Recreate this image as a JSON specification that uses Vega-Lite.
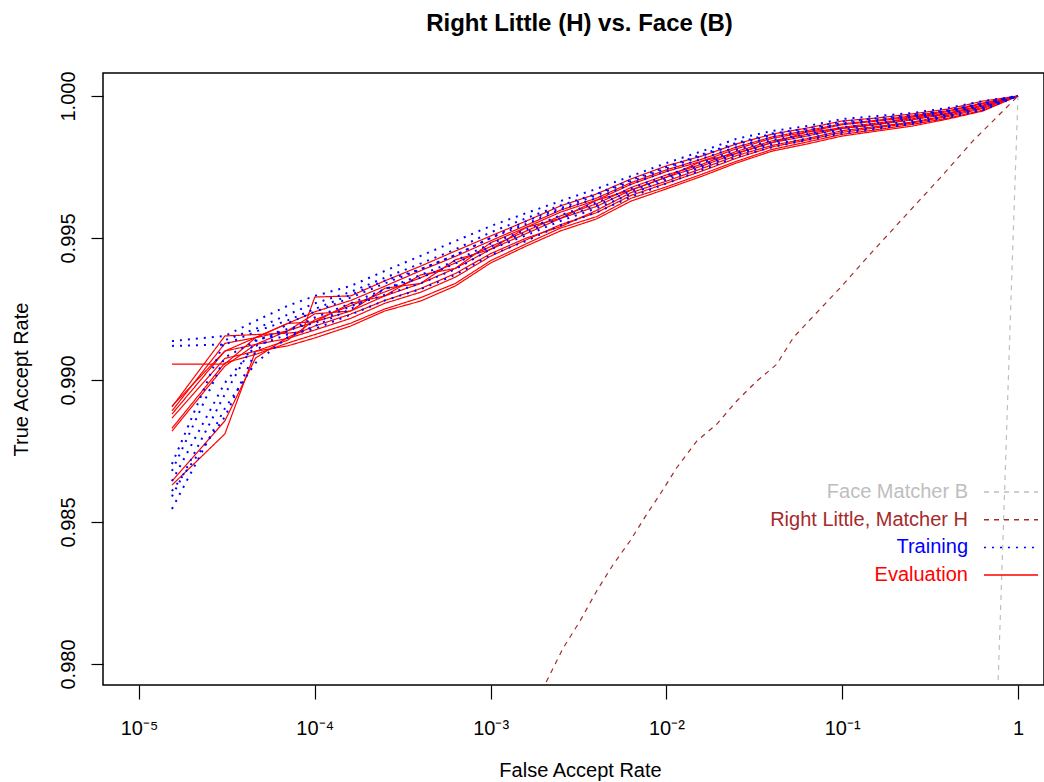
{
"$schema": "https://vega.github.io/schema/vega-lite/v6.json",
"width": 941, "height": 612,
"autosize": {"type": "none"},
"padding": {"left": 103, "top": 73, "right": 0, "bottom": 97},
"background": "white",
"config": {"font": "Liberation Sans", "view": {"stroke": "black", "strokeWidth": 1.5}},
"title": {"text": "Right Little (H) vs. Face (B)", "fontSize": 24, "fontWeight": "bold", "font": "Liberation Sans", "color": "black", "anchor": "middle", "dx": 6, "offset": 16, "baseline": "alphabetic"},
"data": {"values": [
{"g":"Evaluation","c":"R1","far":1.54e-5,"tar":0.99056},{"g":"Evaluation","c":"R1","far":3.08e-5,"tar":0.99056},{"g":"Evaluation","c":"R1","far":4.6e-5,"tar":0.99149},{"g":"Evaluation","c":"R1","far":7e-5,"tar":0.99199},{"g":"Evaluation","c":"R1","far":1e-4,"tar":0.99205},{"g":"Evaluation","c":"R1","far":1.6e-4,"tar":0.9927},{"g":"Evaluation","c":"R1","far":2.5e-4,"tar":0.99296},{"g":"Evaluation","c":"R1","far":4e-4,"tar":0.9937},{"g":"Evaluation","c":"R1","far":6.3e-4,"tar":0.99393},{"g":"Evaluation","c":"R1","far":1e-3,"tar":0.99483},{"g":"Evaluation","c":"R1","far":1.6e-3,"tar":0.99538},{"g":"Evaluation","c":"R1","far":2.5e-3,"tar":0.99569},{"g":"Evaluation","c":"R1","far":4e-3,"tar":0.99633},{"g":"Evaluation","c":"R1","far":6.3e-3,"tar":0.99669},{"g":"Evaluation","c":"R1","far":0.01,"tar":0.99714},{"g":"Evaluation","c":"R1","far":0.016,"tar":0.99771},{"g":"Evaluation","c":"R1","far":0.025,"tar":0.99798},{"g":"Evaluation","c":"R1","far":0.04,"tar":0.99836},{"g":"Evaluation","c":"R1","far":0.063,"tar":0.99873},{"g":"Evaluation","c":"R1","far":0.1,"tar":0.99886},{"g":"Evaluation","c":"R1","far":0.16,"tar":0.999},{"g":"Evaluation","c":"R1","far":0.25,"tar":0.99926},{"g":"Evaluation","c":"R1","far":0.4,"tar":0.99937},{"g":"Evaluation","c":"R1","far":0.63,"tar":0.99965},{"g":"Evaluation","c":"R1","far":1,"tar":1},
{"g":"Evaluation","c":"R2","far":1.54e-5,"tar":0.98908},{"g":"Evaluation","c":"R2","far":3.08e-5,"tar":0.99102},{"g":"Evaluation","c":"R2","far":4.6e-5,"tar":0.99125},{"g":"Evaluation","c":"R2","far":7e-5,"tar":0.99146},{"g":"Evaluation","c":"R2","far":1e-4,"tar":0.99176},{"g":"Evaluation","c":"R2","far":1.6e-4,"tar":0.99217},{"g":"Evaluation","c":"R2","far":2.5e-4,"tar":0.9927},{"g":"Evaluation","c":"R2","far":4e-4,"tar":0.99309},{"g":"Evaluation","c":"R2","far":6.3e-4,"tar":0.99362},{"g":"Evaluation","c":"R2","far":1e-3,"tar":0.99436},{"g":"Evaluation","c":"R2","far":1.6e-3,"tar":0.99494},{"g":"Evaluation","c":"R2","far":2.5e-3,"tar":0.99547},{"g":"Evaluation","c":"R2","far":4e-3,"tar":0.99589},{"g":"Evaluation","c":"R2","far":6.3e-3,"tar":0.9965},{"g":"Evaluation","c":"R2","far":0.01,"tar":0.99693},{"g":"Evaluation","c":"R2","far":0.016,"tar":0.99736},{"g":"Evaluation","c":"R2","far":0.025,"tar":0.99781},{"g":"Evaluation","c":"R2","far":0.04,"tar":0.99821},{"g":"Evaluation","c":"R2","far":0.063,"tar":0.99845},{"g":"Evaluation","c":"R2","far":0.1,"tar":0.99872},{"g":"Evaluation","c":"R2","far":0.16,"tar":0.99889},{"g":"Evaluation","c":"R2","far":0.25,"tar":0.99905},{"g":"Evaluation","c":"R2","far":0.4,"tar":0.99928},{"g":"Evaluation","c":"R2","far":0.63,"tar":0.99956},{"g":"Evaluation","c":"R2","far":1,"tar":1},
{"g":"Evaluation","c":"R3","far":1.54e-5,"tar":0.98891},{"g":"Evaluation","c":"R3","far":3.08e-5,"tar":0.99129},{"g":"Evaluation","c":"R3","far":4.6e-5,"tar":0.99149},{"g":"Evaluation","c":"R3","far":7e-5,"tar":0.99173},{"g":"Evaluation","c":"R3","far":1e-4,"tar":0.99205},{"g":"Evaluation","c":"R3","far":1.6e-4,"tar":0.99243},{"g":"Evaluation","c":"R3","far":2.5e-4,"tar":0.99296},{"g":"Evaluation","c":"R3","far":4e-4,"tar":0.9934},{"g":"Evaluation","c":"R3","far":6.3e-4,"tar":0.99393},{"g":"Evaluation","c":"R3","far":1e-3,"tar":0.9946},{"g":"Evaluation","c":"R3","far":1.6e-3,"tar":0.99516},{"g":"Evaluation","c":"R3","far":2.5e-3,"tar":0.99569},{"g":"Evaluation","c":"R3","far":4e-3,"tar":0.99611},{"g":"Evaluation","c":"R3","far":6.3e-3,"tar":0.99669},{"g":"Evaluation","c":"R3","far":0.01,"tar":0.99714},{"g":"Evaluation","c":"R3","far":0.016,"tar":0.99754},{"g":"Evaluation","c":"R3","far":0.025,"tar":0.99798},{"g":"Evaluation","c":"R3","far":0.04,"tar":0.99836},{"g":"Evaluation","c":"R3","far":0.063,"tar":0.99859},{"g":"Evaluation","c":"R3","far":0.1,"tar":0.99886},{"g":"Evaluation","c":"R3","far":0.16,"tar":0.999},{"g":"Evaluation","c":"R3","far":0.25,"tar":0.99916},{"g":"Evaluation","c":"R3","far":0.4,"tar":0.99937},{"g":"Evaluation","c":"R3","far":0.63,"tar":0.99965},{"g":"Evaluation","c":"R3","far":1,"tar":1},
{"g":"Evaluation","c":"R4","far":1.54e-5,"tar":0.98866},{"g":"Evaluation","c":"R4","far":3.08e-5,"tar":0.99076},{"g":"Evaluation","c":"R4","far":4.6e-5,"tar":0.99101},{"g":"Evaluation","c":"R4","far":7e-5,"tar":0.9912},{"g":"Evaluation","c":"R4","far":1e-4,"tar":0.99148},{"g":"Evaluation","c":"R4","far":1.6e-4,"tar":0.9919},{"g":"Evaluation","c":"R4","far":2.5e-4,"tar":0.99243},{"g":"Evaluation","c":"R4","far":4e-4,"tar":0.99278},{"g":"Evaluation","c":"R4","far":6.3e-4,"tar":0.99331},{"g":"Evaluation","c":"R4","far":1e-3,"tar":0.99412},{"g":"Evaluation","c":"R4","far":1.6e-3,"tar":0.99472},{"g":"Evaluation","c":"R4","far":2.5e-3,"tar":0.99525},{"g":"Evaluation","c":"R4","far":4e-3,"tar":0.99567},{"g":"Evaluation","c":"R4","far":6.3e-3,"tar":0.9963},{"g":"Evaluation","c":"R4","far":0.01,"tar":0.99673},{"g":"Evaluation","c":"R4","far":0.016,"tar":0.99718},{"g":"Evaluation","c":"R4","far":0.025,"tar":0.99764},{"g":"Evaluation","c":"R4","far":0.04,"tar":0.99806},{"g":"Evaluation","c":"R4","far":0.063,"tar":0.99831},{"g":"Evaluation","c":"R4","far":0.1,"tar":0.99859},{"g":"Evaluation","c":"R4","far":0.16,"tar":0.99877},{"g":"Evaluation","c":"R4","far":0.25,"tar":0.99894},{"g":"Evaluation","c":"R4","far":0.4,"tar":0.99919},{"g":"Evaluation","c":"R4","far":0.63,"tar":0.99947},{"g":"Evaluation","c":"R4","far":1,"tar":1},
{"g":"Evaluation","c":"R5","far":1.54e-5,"tar":0.9882},{"g":"Evaluation","c":"R5","far":3.08e-5,"tar":0.99049},{"g":"Evaluation","c":"R5","far":4.6e-5,"tar":0.99125},{"g":"Evaluation","c":"R5","far":7e-5,"tar":0.99173},{"g":"Evaluation","c":"R5","far":1e-4,"tar":0.99233},{"g":"Evaluation","c":"R5","far":1.6e-4,"tar":0.99243},{"g":"Evaluation","c":"R5","far":2.5e-4,"tar":0.99323},{"g":"Evaluation","c":"R5","far":4e-4,"tar":0.9934},{"g":"Evaluation","c":"R5","far":6.3e-4,"tar":0.99423},{"g":"Evaluation","c":"R5","far":1e-3,"tar":0.9946},{"g":"Evaluation","c":"R5","far":1.6e-3,"tar":0.99538},{"g":"Evaluation","c":"R5","far":2.5e-3,"tar":0.99591},{"g":"Evaluation","c":"R5","far":4e-3,"tar":0.99633},{"g":"Evaluation","c":"R5","far":6.3e-3,"tar":0.99689},{"g":"Evaluation","c":"R5","far":0.01,"tar":0.99734},{"g":"Evaluation","c":"R5","far":0.016,"tar":0.99771},{"g":"Evaluation","c":"R5","far":0.025,"tar":0.99814},{"g":"Evaluation","c":"R5","far":0.04,"tar":0.99851},{"g":"Evaluation","c":"R5","far":0.063,"tar":0.99873},{"g":"Evaluation","c":"R5","far":0.1,"tar":0.99899},{"g":"Evaluation","c":"R5","far":0.16,"tar":0.99912},{"g":"Evaluation","c":"R5","far":0.25,"tar":0.99926},{"g":"Evaluation","c":"R5","far":0.4,"tar":0.99945},{"g":"Evaluation","c":"R5","far":0.63,"tar":0.99973},{"g":"Evaluation","c":"R5","far":1,"tar":1},
{"g":"Evaluation","c":"R6","far":1.54e-5,"tar":0.98644},{"g":"Evaluation","c":"R6","far":3.08e-5,"tar":0.98856},{"g":"Evaluation","c":"R6","far":4.6e-5,"tar":0.99077},{"g":"Evaluation","c":"R6","far":7e-5,"tar":0.9915},{"g":"Evaluation","c":"R6","far":1e-4,"tar":0.9919},{"g":"Evaluation","c":"R6","far":1.6e-4,"tar":0.99232},{"g":"Evaluation","c":"R6","far":2.5e-4,"tar":0.9928},{"g":"Evaluation","c":"R6","far":4e-4,"tar":0.99322},{"g":"Evaluation","c":"R6","far":6.3e-4,"tar":0.99375},{"g":"Evaluation","c":"R6","far":1e-3,"tar":0.99445},{"g":"Evaluation","c":"R6","far":1.6e-3,"tar":0.995},{"g":"Evaluation","c":"R6","far":2.5e-3,"tar":0.9954},{"g":"Evaluation","c":"R6","far":4e-3,"tar":0.99597},{"g":"Evaluation","c":"R6","far":6.3e-3,"tar":0.9966},{"g":"Evaluation","c":"R6","far":0.01,"tar":0.997},{"g":"Evaluation","c":"R6","far":0.016,"tar":0.99745},{"g":"Evaluation","c":"R6","far":0.025,"tar":0.9979},{"g":"Evaluation","c":"R6","far":0.04,"tar":0.99826},{"g":"Evaluation","c":"R6","far":0.063,"tar":0.9985},{"g":"Evaluation","c":"R6","far":0.1,"tar":0.99878},{"g":"Evaluation","c":"R6","far":0.16,"tar":0.99893},{"g":"Evaluation","c":"R6","far":0.25,"tar":0.99908},{"g":"Evaluation","c":"R6","far":0.4,"tar":0.99932},{"g":"Evaluation","c":"R6","far":0.63,"tar":0.9996},{"g":"Evaluation","c":"R6","far":1,"tar":1},
{"g":"Evaluation","c":"R7","far":1.54e-5,"tar":0.9863},{"g":"Evaluation","c":"R7","far":3.08e-5,"tar":0.9881},{"g":"Evaluation","c":"R7","far":4.6e-5,"tar":0.99101},{"g":"Evaluation","c":"R7","far":7e-5,"tar":0.9914},{"g":"Evaluation","c":"R7","far":1e-4,"tar":0.99212},{"g":"Evaluation","c":"R7","far":1.6e-4,"tar":0.99262},{"g":"Evaluation","c":"R7","far":2.5e-4,"tar":0.9931},{"g":"Evaluation","c":"R7","far":4e-4,"tar":0.9936},{"g":"Evaluation","c":"R7","far":6.3e-4,"tar":0.99412},{"g":"Evaluation","c":"R7","far":1e-3,"tar":0.9947},{"g":"Evaluation","c":"R7","far":1.6e-3,"tar":0.99525},{"g":"Evaluation","c":"R7","far":2.5e-3,"tar":0.99578},{"g":"Evaluation","c":"R7","far":4e-3,"tar":0.9962},{"g":"Evaluation","c":"R7","far":6.3e-3,"tar":0.99678},{"g":"Evaluation","c":"R7","far":0.01,"tar":0.99722},{"g":"Evaluation","c":"R7","far":0.016,"tar":0.9976},{"g":"Evaluation","c":"R7","far":0.025,"tar":0.99805},{"g":"Evaluation","c":"R7","far":0.04,"tar":0.99842},{"g":"Evaluation","c":"R7","far":0.063,"tar":0.99865},{"g":"Evaluation","c":"R7","far":0.1,"tar":0.9989},{"g":"Evaluation","c":"R7","far":0.16,"tar":0.99905},{"g":"Evaluation","c":"R7","far":0.25,"tar":0.9992},{"g":"Evaluation","c":"R7","far":0.4,"tar":0.9994},{"g":"Evaluation","c":"R7","far":0.63,"tar":0.99968},{"g":"Evaluation","c":"R7","far":1,"tar":1},
{"g":"Evaluation","c":"R8","far":1.54e-5,"tar":0.98905},{"g":"Evaluation","c":"R8","far":3.08e-5,"tar":0.99155},{"g":"Evaluation","c":"R8","far":4.6e-5,"tar":0.9916},{"g":"Evaluation","c":"R8","far":7e-5,"tar":0.99165},{"g":"Evaluation","c":"R8","far":8.5e-5,"tar":0.9917},{"g":"Evaluation","c":"R8","far":1e-4,"tar":0.99292},{"g":"Evaluation","c":"R8","far":1.6e-4,"tar":0.99296},{"g":"Evaluation","c":"R8","far":2.5e-4,"tar":0.99349},{"g":"Evaluation","c":"R8","far":4e-4,"tar":0.99401},{"g":"Evaluation","c":"R8","far":6.3e-4,"tar":0.99454},{"g":"Evaluation","c":"R8","far":1e-3,"tar":0.99507},{"g":"Evaluation","c":"R8","far":1.6e-3,"tar":0.9956},{"g":"Evaluation","c":"R8","far":2.5e-3,"tar":0.99613},{"g":"Evaluation","c":"R8","far":4e-3,"tar":0.99655},{"g":"Evaluation","c":"R8","far":6.3e-3,"tar":0.99708},{"g":"Evaluation","c":"R8","far":0.01,"tar":0.99754},{"g":"Evaluation","c":"R8","far":0.016,"tar":0.99789},{"g":"Evaluation","c":"R8","far":0.025,"tar":0.99831},{"g":"Evaluation","c":"R8","far":0.04,"tar":0.99866},{"g":"Evaluation","c":"R8","far":0.063,"tar":0.99887},{"g":"Evaluation","c":"R8","far":0.1,"tar":0.99912},{"g":"Evaluation","c":"R8","far":0.16,"tar":0.99923},{"g":"Evaluation","c":"R8","far":0.25,"tar":0.99937},{"g":"Evaluation","c":"R8","far":0.4,"tar":0.99954},{"g":"Evaluation","c":"R8","far":0.63,"tar":0.99982},{"g":"Evaluation","c":"R8","far":1,"tar":1},
{"g":"Evaluation","c":"R9","far":1.54e-5,"tar":0.9888},{"g":"Evaluation","c":"R9","far":3.08e-5,"tar":0.99102},{"g":"Evaluation","c":"R9","far":4.6e-5,"tar":0.99149},{"g":"Evaluation","c":"R9","far":7e-5,"tar":0.99199},{"g":"Evaluation","c":"R9","far":1e-4,"tar":0.9924},{"g":"Evaluation","c":"R9","far":1.6e-4,"tar":0.9928},{"g":"Evaluation","c":"R9","far":2.5e-4,"tar":0.9933},{"g":"Evaluation","c":"R9","far":4e-4,"tar":0.99385},{"g":"Evaluation","c":"R9","far":6.3e-4,"tar":0.99435},{"g":"Evaluation","c":"R9","far":1e-3,"tar":0.9949},{"g":"Evaluation","c":"R9","far":1.6e-3,"tar":0.99545},{"g":"Evaluation","c":"R9","far":2.5e-3,"tar":0.99598},{"g":"Evaluation","c":"R9","far":4e-3,"tar":0.9964},{"g":"Evaluation","c":"R9","far":6.3e-3,"tar":0.99695},{"g":"Evaluation","c":"R9","far":0.01,"tar":0.9974},{"g":"Evaluation","c":"R9","far":0.016,"tar":0.99778},{"g":"Evaluation","c":"R9","far":0.025,"tar":0.9982},{"g":"Evaluation","c":"R9","far":0.04,"tar":0.99856},{"g":"Evaluation","c":"R9","far":0.063,"tar":0.99878},{"g":"Evaluation","c":"R9","far":0.1,"tar":0.99902},{"g":"Evaluation","c":"R9","far":0.16,"tar":0.99915},{"g":"Evaluation","c":"R9","far":0.25,"tar":0.9993},{"g":"Evaluation","c":"R9","far":0.4,"tar":0.99948},{"g":"Evaluation","c":"R9","far":0.63,"tar":0.99975},{"g":"Evaluation","c":"R9","far":1,"tar":1},
{"g":"Evaluation","c":"R10","far":1.54e-5,"tar":0.9883},{"g":"Evaluation","c":"R10","far":3.08e-5,"tar":0.9906},{"g":"Evaluation","c":"R10","far":4.6e-5,"tar":0.9909},{"g":"Evaluation","c":"R10","far":7e-5,"tar":0.9913},{"g":"Evaluation","c":"R10","far":1e-4,"tar":0.9916},{"g":"Evaluation","c":"R10","far":1.6e-4,"tar":0.992},{"g":"Evaluation","c":"R10","far":2.5e-4,"tar":0.9925},{"g":"Evaluation","c":"R10","far":4e-4,"tar":0.9929},{"g":"Evaluation","c":"R10","far":6.3e-4,"tar":0.9934},{"g":"Evaluation","c":"R10","far":1e-3,"tar":0.9942},{"g":"Evaluation","c":"R10","far":1.6e-3,"tar":0.9948},{"g":"Evaluation","c":"R10","far":2.5e-3,"tar":0.99535},{"g":"Evaluation","c":"R10","far":4e-3,"tar":0.99575},{"g":"Evaluation","c":"R10","far":6.3e-3,"tar":0.9964},{"g":"Evaluation","c":"R10","far":0.01,"tar":0.9968},{"g":"Evaluation","c":"R10","far":0.016,"tar":0.99725},{"g":"Evaluation","c":"R10","far":0.025,"tar":0.9977},{"g":"Evaluation","c":"R10","far":0.04,"tar":0.99812},{"g":"Evaluation","c":"R10","far":0.063,"tar":0.99838},{"g":"Evaluation","c":"R10","far":0.1,"tar":0.99865},{"g":"Evaluation","c":"R10","far":0.16,"tar":0.99882},{"g":"Evaluation","c":"R10","far":0.25,"tar":0.999},{"g":"Evaluation","c":"R10","far":0.4,"tar":0.99922},{"g":"Evaluation","c":"R10","far":0.63,"tar":0.9995},{"g":"Evaluation","c":"R10","far":1,"tar":1},
{"g":"Training","c":"B1","far":1.54e-5,"tar":0.99137},{"g":"Training","c":"B1","far":3.08e-5,"tar":0.99155},{"g":"Training","c":"B1","far":4.6e-5,"tar":0.99208},{"g":"Training","c":"B1","far":7e-5,"tar":0.99261},{"g":"Training","c":"B1","far":1e-4,"tar":0.99296},{"g":"Training","c":"B1","far":1.6e-4,"tar":0.99331},{"g":"Training","c":"B1","far":2.5e-4,"tar":0.99384},{"g":"Training","c":"B1","far":4e-4,"tar":0.99437},{"g":"Training","c":"B1","far":6.3e-4,"tar":0.99489},{"g":"Training","c":"B1","far":1e-3,"tar":0.99542},{"g":"Training","c":"B1","far":1.6e-3,"tar":0.99588},{"g":"Training","c":"B1","far":2.5e-3,"tar":0.9963},{"g":"Training","c":"B1","far":4e-3,"tar":0.99673},{"g":"Training","c":"B1","far":6.3e-3,"tar":0.99718},{"g":"Training","c":"B1","far":0.01,"tar":0.99764},{"g":"Training","c":"B1","far":0.016,"tar":0.99806},{"g":"Training","c":"B1","far":0.025,"tar":0.99849},{"g":"Training","c":"B1","far":0.04,"tar":0.99877},{"g":"Training","c":"B1","far":0.063,"tar":0.99894},{"g":"Training","c":"B1","far":0.1,"tar":0.99919},{"g":"Training","c":"B1","far":0.16,"tar":0.9993},{"g":"Training","c":"B1","far":0.25,"tar":0.9994},{"g":"Training","c":"B1","far":0.4,"tar":0.99958},{"g":"Training","c":"B1","far":0.63,"tar":0.99982},{"g":"Training","c":"B1","far":1,"tar":1},
{"g":"Training","c":"B2","far":1.54e-5,"tar":0.9912},{"g":"Training","c":"B2","far":3.08e-5,"tar":0.99125},{"g":"Training","c":"B2","far":4.6e-5,"tar":0.9917},{"g":"Training","c":"B2","far":7e-5,"tar":0.9921},{"g":"Training","c":"B2","far":1e-4,"tar":0.9925},{"g":"Training","c":"B2","far":1.6e-4,"tar":0.993},{"g":"Training","c":"B2","far":2.5e-4,"tar":0.9935},{"g":"Training","c":"B2","far":4e-4,"tar":0.9939},{"g":"Training","c":"B2","far":6.3e-4,"tar":0.9944},{"g":"Training","c":"B2","far":1e-3,"tar":0.995},{"g":"Training","c":"B2","far":1.6e-3,"tar":0.9955},{"g":"Training","c":"B2","far":2.5e-3,"tar":0.996},{"g":"Training","c":"B2","far":4e-3,"tar":0.9964},{"g":"Training","c":"B2","far":6.3e-3,"tar":0.9969},{"g":"Training","c":"B2","far":0.01,"tar":0.99735},{"g":"Training","c":"B2","far":0.016,"tar":0.9978},{"g":"Training","c":"B2","far":0.025,"tar":0.9982},{"g":"Training","c":"B2","far":0.04,"tar":0.99855},{"g":"Training","c":"B2","far":0.063,"tar":0.99875},{"g":"Training","c":"B2","far":0.1,"tar":0.999},{"g":"Training","c":"B2","far":0.16,"tar":0.99912},{"g":"Training","c":"B2","far":0.25,"tar":0.99925},{"g":"Training","c":"B2","far":0.4,"tar":0.99945},{"g":"Training","c":"B2","far":0.63,"tar":0.9997},{"g":"Training","c":"B2","far":1,"tar":1},
{"g":"Training","c":"B3","far":1.54e-5,"tar":0.98704},{"g":"Training","c":"B3","far":3.08e-5,"tar":0.9914},{"g":"Training","c":"B3","far":4.6e-5,"tar":0.9918},{"g":"Training","c":"B3","far":7e-5,"tar":0.9923},{"g":"Training","c":"B3","far":1e-4,"tar":0.9927},{"g":"Training","c":"B3","far":1.6e-4,"tar":0.9931},{"g":"Training","c":"B3","far":2.5e-4,"tar":0.9936},{"g":"Training","c":"B3","far":4e-4,"tar":0.9941},{"g":"Training","c":"B3","far":6.3e-4,"tar":0.9946},{"g":"Training","c":"B3","far":1e-3,"tar":0.9952},{"g":"Training","c":"B3","far":1.6e-3,"tar":0.9957},{"g":"Training","c":"B3","far":2.5e-3,"tar":0.99615},{"g":"Training","c":"B3","far":4e-3,"tar":0.99655},{"g":"Training","c":"B3","far":6.3e-3,"tar":0.99705},{"g":"Training","c":"B3","far":0.01,"tar":0.9975},{"g":"Training","c":"B3","far":0.016,"tar":0.99795},{"g":"Training","c":"B3","far":0.025,"tar":0.99835},{"g":"Training","c":"B3","far":0.04,"tar":0.99868},{"g":"Training","c":"B3","far":0.063,"tar":0.99885},{"g":"Training","c":"B3","far":0.1,"tar":0.9991},{"g":"Training","c":"B3","far":0.16,"tar":0.99922},{"g":"Training","c":"B3","far":0.25,"tar":0.99933},{"g":"Training","c":"B3","far":0.4,"tar":0.9995},{"g":"Training","c":"B3","far":0.63,"tar":0.99975},{"g":"Training","c":"B3","far":1,"tar":1},
{"g":"Training","c":"B4","far":1.54e-5,"tar":0.9868},{"g":"Training","c":"B4","far":3.08e-5,"tar":0.9908},{"g":"Training","c":"B4","far":4.6e-5,"tar":0.99137},{"g":"Training","c":"B4","far":7e-5,"tar":0.9918},{"g":"Training","c":"B4","far":1e-4,"tar":0.992},{"g":"Training","c":"B4","far":1.6e-4,"tar":0.9926},{"g":"Training","c":"B4","far":2.5e-4,"tar":0.993},{"g":"Training","c":"B4","far":4e-4,"tar":0.9934},{"g":"Training","c":"B4","far":6.3e-4,"tar":0.9939},{"g":"Training","c":"B4","far":1e-3,"tar":0.9946},{"g":"Training","c":"B4","far":1.6e-3,"tar":0.9951},{"g":"Training","c":"B4","far":2.5e-3,"tar":0.9956},{"g":"Training","c":"B4","far":4e-3,"tar":0.99605},{"g":"Training","c":"B4","far":6.3e-3,"tar":0.99655},{"g":"Training","c":"B4","far":0.01,"tar":0.99705},{"g":"Training","c":"B4","far":0.016,"tar":0.9975},{"g":"Training","c":"B4","far":0.025,"tar":0.99795},{"g":"Training","c":"B4","far":0.04,"tar":0.9983},{"g":"Training","c":"B4","far":0.063,"tar":0.9985},{"g":"Training","c":"B4","far":0.1,"tar":0.99875},{"g":"Training","c":"B4","far":0.16,"tar":0.9989},{"g":"Training","c":"B4","far":0.25,"tar":0.99905},{"g":"Training","c":"B4","far":0.4,"tar":0.9993},{"g":"Training","c":"B4","far":0.63,"tar":0.99955},{"g":"Training","c":"B4","far":1,"tar":1},
{"g":"Training","c":"B5","far":1.54e-5,"tar":0.98644},{"g":"Training","c":"B5","far":3.08e-5,"tar":0.9899},{"g":"Training","c":"B5","far":4.6e-5,"tar":0.9912},{"g":"Training","c":"B5","far":7e-5,"tar":0.9916},{"g":"Training","c":"B5","far":1e-4,"tar":0.9918},{"g":"Training","c":"B5","far":1.6e-4,"tar":0.9923},{"g":"Training","c":"B5","far":2.5e-4,"tar":0.9928},{"g":"Training","c":"B5","far":4e-4,"tar":0.9932},{"g":"Training","c":"B5","far":6.3e-4,"tar":0.9937},{"g":"Training","c":"B5","far":1e-3,"tar":0.9944},{"g":"Training","c":"B5","far":1.6e-3,"tar":0.9949},{"g":"Training","c":"B5","far":2.5e-3,"tar":0.99545},{"g":"Training","c":"B5","far":4e-3,"tar":0.9959},{"g":"Training","c":"B5","far":6.3e-3,"tar":0.99645},{"g":"Training","c":"B5","far":0.01,"tar":0.99692},{"g":"Training","c":"B5","far":0.016,"tar":0.9974},{"g":"Training","c":"B5","far":0.025,"tar":0.99785},{"g":"Training","c":"B5","far":0.04,"tar":0.9982},{"g":"Training","c":"B5","far":0.063,"tar":0.99845},{"g":"Training","c":"B5","far":0.1,"tar":0.99868},{"g":"Training","c":"B5","far":0.16,"tar":0.99885},{"g":"Training","c":"B5","far":0.25,"tar":0.99902},{"g":"Training","c":"B5","far":0.4,"tar":0.99925},{"g":"Training","c":"B5","far":0.63,"tar":0.9995},{"g":"Training","c":"B5","far":1,"tar":1},
{"g":"Training","c":"B6","far":1.54e-5,"tar":0.98546},{"g":"Training","c":"B6","far":3.08e-5,"tar":0.989},{"g":"Training","c":"B6","far":4.6e-5,"tar":0.9906},{"g":"Training","c":"B6","far":7e-5,"tar":0.9915},{"g":"Training","c":"B6","far":1e-4,"tar":0.9919},{"g":"Training","c":"B6","far":1.6e-4,"tar":0.9925},{"g":"Training","c":"B6","far":2.5e-4,"tar":0.9932},{"g":"Training","c":"B6","far":4e-4,"tar":0.9937},{"g":"Training","c":"B6","far":6.3e-4,"tar":0.9942},{"g":"Training","c":"B6","far":1e-3,"tar":0.9948},{"g":"Training","c":"B6","far":1.6e-3,"tar":0.9953},{"g":"Training","c":"B6","far":2.5e-3,"tar":0.9958},{"g":"Training","c":"B6","far":4e-3,"tar":0.99625},{"g":"Training","c":"B6","far":6.3e-3,"tar":0.99675},{"g":"Training","c":"B6","far":0.01,"tar":0.9972},{"g":"Training","c":"B6","far":0.016,"tar":0.99765},{"g":"Training","c":"B6","far":0.025,"tar":0.9981},{"g":"Training","c":"B6","far":0.04,"tar":0.99845},{"g":"Training","c":"B6","far":0.063,"tar":0.99865},{"g":"Training","c":"B6","far":0.1,"tar":0.9989},{"g":"Training","c":"B6","far":0.16,"tar":0.99905},{"g":"Training","c":"B6","far":0.25,"tar":0.99918},{"g":"Training","c":"B6","far":0.4,"tar":0.9994},{"g":"Training","c":"B6","far":0.63,"tar":0.99965},{"g":"Training","c":"B6","far":1,"tar":1},
{"g":"Training","c":"B7","far":1.54e-5,"tar":0.98609},{"g":"Training","c":"B7","far":3.08e-5,"tar":0.9887},{"g":"Training","c":"B7","far":4.6e-5,"tar":0.991},{"g":"Training","c":"B7","far":7e-5,"tar":0.992},{"g":"Training","c":"B7","far":1e-4,"tar":0.9924},{"g":"Training","c":"B7","far":1.6e-4,"tar":0.9929},{"g":"Training","c":"B7","far":2.5e-4,"tar":0.9934},{"g":"Training","c":"B7","far":4e-4,"tar":0.9939},{"g":"Training","c":"B7","far":6.3e-4,"tar":0.9944},{"g":"Training","c":"B7","far":1e-3,"tar":0.995},{"g":"Training","c":"B7","far":1.6e-3,"tar":0.9956},{"g":"Training","c":"B7","far":2.5e-3,"tar":0.99605},{"g":"Training","c":"B7","far":4e-3,"tar":0.9965},{"g":"Training","c":"B7","far":6.3e-3,"tar":0.997},{"g":"Training","c":"B7","far":0.01,"tar":0.99745},{"g":"Training","c":"B7","far":0.016,"tar":0.9979},{"g":"Training","c":"B7","far":0.025,"tar":0.9983},{"g":"Training","c":"B7","far":0.04,"tar":0.99862},{"g":"Training","c":"B7","far":0.063,"tar":0.9988},{"g":"Training","c":"B7","far":0.1,"tar":0.99905},{"g":"Training","c":"B7","far":0.16,"tar":0.99918},{"g":"Training","c":"B7","far":0.25,"tar":0.9993},{"g":"Training","c":"B7","far":0.4,"tar":0.99948},{"g":"Training","c":"B7","far":0.63,"tar":0.99972},{"g":"Training","c":"B7","far":1,"tar":1},
{"g":"Training","c":"B8","far":1.54e-5,"tar":0.9859},{"g":"Training","c":"B8","far":3.08e-5,"tar":0.9895},{"g":"Training","c":"B8","far":4.6e-5,"tar":0.9914},{"g":"Training","c":"B8","far":7e-5,"tar":0.9917},{"g":"Training","c":"B8","far":1e-4,"tar":0.9922},{"g":"Training","c":"B8","far":1.6e-4,"tar":0.9927},{"g":"Training","c":"B8","far":2.5e-4,"tar":0.9932},{"g":"Training","c":"B8","far":4e-4,"tar":0.9936},{"g":"Training","c":"B8","far":6.3e-4,"tar":0.9941},{"g":"Training","c":"B8","far":1e-3,"tar":0.9947},{"g":"Training","c":"B8","far":1.6e-3,"tar":0.9952},{"g":"Training","c":"B8","far":2.5e-3,"tar":0.9957},{"g":"Training","c":"B8","far":4e-3,"tar":0.99615},{"g":"Training","c":"B8","far":6.3e-3,"tar":0.99665},{"g":"Training","c":"B8","far":0.01,"tar":0.99712},{"g":"Training","c":"B8","far":0.016,"tar":0.99758},{"g":"Training","c":"B8","far":0.025,"tar":0.998},{"g":"Training","c":"B8","far":0.04,"tar":0.99838},{"g":"Training","c":"B8","far":0.063,"tar":0.9986},{"g":"Training","c":"B8","far":0.1,"tar":0.99882},{"g":"Training","c":"B8","far":0.16,"tar":0.99898},{"g":"Training","c":"B8","far":0.25,"tar":0.99912},{"g":"Training","c":"B8","far":0.4,"tar":0.99935},{"g":"Training","c":"B8","far":0.63,"tar":0.9996},{"g":"Training","c":"B8","far":1,"tar":1},
{"g":"Right Little, Matcher H","c":"H","far":0.00191,"tar":0.9787},{"g":"Right Little, Matcher H","c":"H","far":0.002085,"tar":0.9794},{"g":"Right Little, Matcher H","c":"H","far":0.002592,"tar":0.98057},{"g":"Right Little, Matcher H","c":"H","far":0.003225,"tar":0.98151},{"g":"Right Little, Matcher H","c":"H","far":0.004013,"tar":0.98257},{"g":"Right Little, Matcher H","c":"H","far":0.004989,"tar":0.98351},{"g":"Right Little, Matcher H","c":"H","far":0.006209,"tar":0.98433},{"g":"Right Little, Matcher H","c":"H","far":0.007727,"tar":0.98527},{"g":"Right Little, Matcher H","c":"H","far":0.009196,"tar":0.98597},{"g":"Right Little, Matcher H","c":"H","far":0.01144,"tar":0.98691},{"g":"Right Little, Matcher H","c":"H","far":0.01488,"tar":0.98785},{"g":"Right Little, Matcher H","c":"H","far":0.01932,"tar":0.98844},{"g":"Right Little, Matcher H","c":"H","far":0.02512,"tar":0.98926},{"g":"Right Little, Matcher H","c":"H","far":0.03266,"tar":0.98996},{"g":"Right Little, Matcher H","c":"H","far":0.0424,"tar":0.99055},{"g":"Right Little, Matcher H","c":"H","far":0.05272,"tar":0.99149},{"g":"Right Little, Matcher H","c":"H","far":0.0631,"tar":0.99201},{"g":"Right Little, Matcher H","c":"H","far":0.0972,"tar":0.99324},{"g":"Right Little, Matcher H","c":"H","far":0.1496,"tar":0.99454},{"g":"Right Little, Matcher H","c":"H","far":0.2338,"tar":0.99585},{"g":"Right Little, Matcher H","c":"H","far":0.36,"tar":0.99711},{"g":"Right Little, Matcher H","c":"H","far":0.5546,"tar":0.99842},{"g":"Right Little, Matcher H","c":"H","far":1,"tar":1},
{"g":"Face Matcher B","c":"B","far":0.7574,"tar":0.97803},{"g":"Face Matcher B","c":"B","far":0.7695,"tar":0.97926},{"g":"Face Matcher B","c":"B","far":0.836,"tar":0.98577},{"g":"Face Matcher B","c":"B","far":0.9124,"tar":0.99282},{"g":"Face Matcher B","c":"B","far":1,"tar":1}
]},
"encoding": {
  "x": {"field": "far", "type": "quantitative",
    "scale": {"type": "log", "domain": [6.241e-6, 1.406], "nice": false},
    "axis": {"values": [1e-5, 1e-4, 1e-3, 1e-2, 1e-1, 1],
      "labelExpr": "datum.value >= 1 ? '1' : datum.value >= 0.1 ? '10⁻¹' : datum.value >= 0.01 ? '10⁻²' : datum.value >= 0.001 ? '10⁻³' : datum.value >= 0.0001 ? '10⁻⁴' : '10⁻⁵'",
      "title": "False Accept Rate", "grid": false, "domain": false,
      "tickSize": 14, "tickColor": "black", "tickWidth": 1.2,
      "labelFontSize": 20, "labelColor": "black", "labelPadding": 19, "labelFont": "Liberation Sans",
      "titleFontSize": 20, "titleFontWeight": "normal", "titleColor": "black", "titleFont": "Liberation Sans",
      "titlePadding": 22, "titleX": 477}},
  "y": {"field": "tar", "type": "quantitative",
    "scale": {"domain": [0.97926, 1.00081], "nice": false, "zero": false},
    "axis": {"values": [0.98, 0.985, 0.99, 0.995, 1], "format": ".3f", "labelAngle": -90,
      "title": "True Accept Rate", "grid": false, "domain": false,
      "tickSize": 12, "tickColor": "black", "tickWidth": 1.2,
      "labelFontSize": 20, "labelColor": "black", "labelPadding": 13, "labelFont": "Liberation Sans",
      "titleFontSize": 20, "titleFontWeight": "normal", "titleColor": "black", "titleFont": "Liberation Sans",
      "titlePadding": 27}},
  "color": {"field": "g", "type": "nominal",
    "scale": {"domain": ["Face Matcher B", "Right Little, Matcher H", "Training", "Evaluation"], "range": ["#bebebe", "#a52a2a", "#0000ff", "#ff0000"]},
    "legend": {"orient": "none", "legendX": 880, "legendY": 409, "direction": "vertical", "title": null,
      "symbolType": "stroke", "symbolSize": 2916, "symbolStrokeWidth": 1.5,
      "labelFontSize": 20, "labelFont": "Liberation Sans", "labelLimit": 400, "labelAlign": "right",
      "rowPadding": 7.7, "clipHeight": 20, "padding": 0,
      "encode": {"entries": {"update": {"width": {"value": 62}}}, "labels": {"update": {"fill": {"scale": "color", "field": "value"}, "x": {"value": -15}}}}}},
  "strokeDash": {"field": "g", "type": "nominal",
    "scale": {"domain": ["Face Matcher B", "Right Little, Matcher H", "Training", "Evaluation"], "range": [[5, 5], [5, 5], [2, 6], [1, 0]]},
    "legend": {"orient": "none", "legendX": 880, "legendY": 409, "direction": "vertical", "title": null,
      "symbolType": "stroke", "symbolSize": 2916, "symbolStrokeWidth": 1.5,
      "labelFontSize": 20, "labelFont": "Liberation Sans", "labelLimit": 400, "labelAlign": "right",
      "rowPadding": 7.7, "clipHeight": 20, "padding": 0,
      "encode": {"entries": {"update": {"width": {"value": 62}}}, "labels": {"update": {"fill": {"scale": "color", "field": "value"}, "x": {"value": -15}}}}}},
  "detail": {"field": "c", "type": "nominal"}
},
"layer": [
  {"transform": [{"filter": "datum.g != 'Training'"}], "mark": {"type": "line", "strokeWidth": 1.2, "clip": true}},
  {"transform": [{"filter": "datum.g == 'Training'"}], "mark": {"type": "line", "strokeWidth": 2, "clip": true}}
]
}
